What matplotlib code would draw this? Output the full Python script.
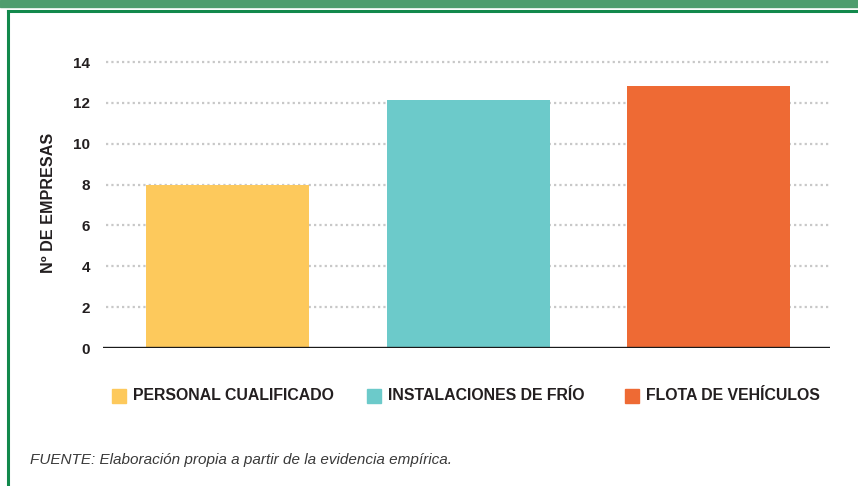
import matplotlib
matplotlib.use("Agg")
import matplotlib.pyplot as plt
from matplotlib.patches import Rectangle
from matplotlib.lines import Line2D

categories = ["PERSONAL CUALIFICADO", "INSTALACIONES DE FRÍO", "FLOTA DE VEHÍCULOS"]
values = [8, 12.15, 12.85]
colors = ["#fdc95c", "#6ccaca", "#ee6a34"]
yticks = [0, 2, 4, 6, 8, 10, 12, 14]
ylabel = "Nº DE EMPRESAS"
source = "FUENTE: Elaboración propia a partir de la evidencia empírica."

W, H = 858, 486
fig = plt.figure(figsize=(W / 100, H / 100), dpi=100)
plt.rcParams['font.family'] = ['Liberation Sans', 'DejaVu Sans']
txtc = "#231f20"

def fx(px):
    return px / W

def fy(py):
    return 1 - py / H

# frame decoration
fig.patches.append(Rectangle((0, fy(7)), 1, 7 / H, transform=fig.transFigure,
                             color="#4e9d6e", zorder=0))
fig.add_artist(Line2D([fx(8), 1], [fy(11), fy(11)], transform=fig.transFigure,
                      color="#12894c", lw=2.2))
fig.add_artist(Line2D([fx(8), fx(8)], [fy(11), 0], transform=fig.transFigure,
                      color="#12894c", lw=2.2))

# axes: x 103-830 px, y0 at 348 px, 20.42 px/unit
x0, x1 = 103, 830
y0px, top = 348, 52
ax = fig.add_axes([fx(x0), fy(y0px), (x1 - x0) / W, (y0px - top) / H])
ymax = (y0px - top) / 20.42
ax.set_ylim(0, ymax)
ax.set_xlim(-0.52, 2.505)

xs = list(range(len(categories)))
ax.bar(xs, values, width=0.678, color=colors, zorder=3)

for t in yticks[1:]:
    ax.axhline(t, xmin=3 / (x1 - x0), xmax=1, color="#c8c8c8", lw=1.6,
               linestyle=(0, (1, 1.4)), zorder=1)
ax.axhline(0, color="#1a1a1a", lw=1.7, zorder=4)

for s in ax.spines.values():
    s.set_visible(False)
ax.set_xticks([])
ax.set_yticks(yticks)
ax.set_yticklabels([str(t) for t in yticks], fontweight="bold", fontsize=11, color=txtc)
ax.tick_params(axis="y", length=0, pad=9.4)

fig.text(fx(49), fy(203), ylabel, rotation=90, ha="center", va="center",
         fontweight="bold", fontsize=11.6, color=txtc)

# legend
sq_x = [112, 367, 625]
for sx, lab, c in zip(sq_x, categories, colors):
    fig.patches.append(Rectangle((fx(sx), fy(403)), 14 / W, 14 / H,
                                 transform=fig.transFigure, color=c))
    fig.text(fx(sx + 21), fy(396), lab, ha="left", va="center",
             fontweight="bold", fontsize=11.4, color=txtc)

fig.text(fx(30), fy(460), source, ha="left", va="center", style="italic",
         fontsize=11, color="#3a3a3a")

fig.savefig("out.png", dpi=100)
